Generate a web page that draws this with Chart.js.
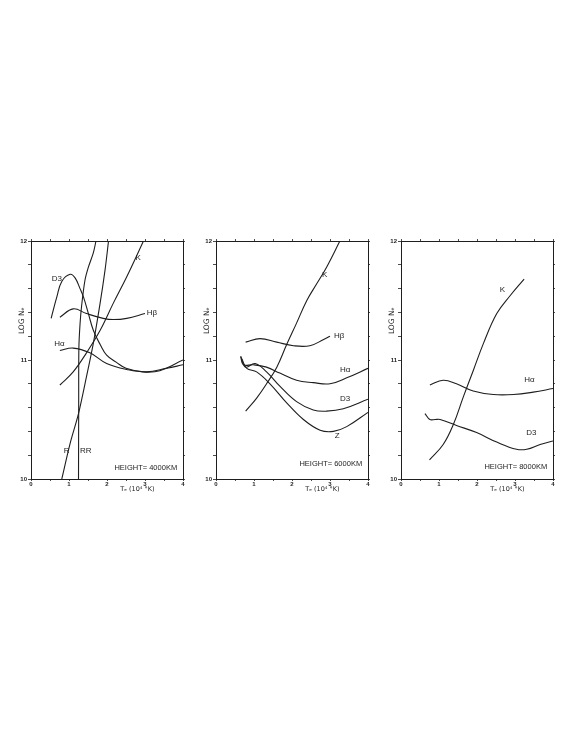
<!DOCTYPE html>
<html><head><meta charset="utf-8">
<script src="https://cdn.jsdelivr.net/npm/chart.js@4.4.1/dist/chart.umd.min.js"></script>
<style>
html,body{margin:0;padding:0;background:#fff;}
body{width:568px;height:735px;position:relative;overflow:hidden;}
canvas{position:absolute;}
</style></head><body>
<canvas id="c1" width="200" height="270" style="left:0px;top:230px;width:200px;height:270px"></canvas>
<canvas id="c2" width="195" height="270" style="left:190px;top:230px;width:195px;height:270px"></canvas>
<canvas id="c3" width="193" height="270" style="left:375px;top:230px;width:193px;height:270px"></canvas>
<script>
// ---------- DATA (T_e in 10^4 K, log N_e) ----------
const xTickValues = [0, 1, 2, 3, 4];
const yTickValues = [10, 11, 12];

// Panel 1: HEIGHT = 4000 KM
const p1_D3 = [[0.53,11.35],[0.68,11.53],[0.81,11.66],[1.03,11.72],[1.16,11.69],[1.29,11.60],[1.38,11.53],[1.51,11.39],[1.64,11.25],[1.82,11.13],[1.99,11.04],[2.25,10.98],[2.5,10.93],[2.96,10.90],[3.39,10.91],[4.0,11.0]];
const p1_Ha = [[0.76,11.08],[1.11,11.10],[1.55,11.06],[1.99,10.97],[2.52,10.92],[3.04,10.90],[3.57,10.93],[4.0,10.96]];
const p1_Hb = [[0.76,11.36],[1.11,11.43],[1.46,11.39],[1.90,11.35],[2.17,11.34],[2.52,11.35],[3.0,11.39]];
const p1_K  = [[0.76,10.79],[1.11,10.90],[1.46,11.06],[1.82,11.25],[2.17,11.48],[2.52,11.70],[2.96,12.0]];
const p1_R  = [[0.81,10.0],[1.03,10.30],[1.25,10.55],[1.46,10.86],[1.64,11.14],[1.82,11.48],[1.95,11.76],[2.04,12.0]];
const p1_RR = [[1.25,10.0],[1.255,10.6],[1.26,11.1],[1.29,11.3],[1.33,11.45],[1.42,11.67],[1.51,11.78],[1.64,11.90],[1.71,12.0]];

// Panel 2: HEIGHT = 6000 KM
const p2_K  = [[0.78,10.57],[1.07,10.68],[1.33,10.80],[1.6,10.94],[1.86,11.13],[2.12,11.31],[2.39,11.50],[2.65,11.64],[2.91,11.78],[3.26,12.0]];
const p2_Hb = [[0.78,11.15],[1.16,11.18],[1.6,11.15],[2.04,11.12],[2.47,11.12],[2.82,11.17],[3.0,11.20]];
const p2_Ha = [[0.65,11.03],[0.72,10.96],[0.98,10.96],[1.33,10.94],[1.68,10.89],[2.12,10.83],[2.56,10.81],[3.0,10.80],[3.44,10.85],[4.0,10.93]];
const p2_D3 = [[0.65,11.03],[0.78,10.94],[1.03,10.97],[1.33,10.90],[1.68,10.78],[2.12,10.65],[2.56,10.58],[2.91,10.57],[3.35,10.59],[4.0,10.67]];
const p2_Z  = [[0.68,11.01],[0.81,10.93],[1.07,10.90],[1.42,10.80],[1.86,10.64],[2.3,10.50],[2.74,10.41],[3.09,10.40],[3.44,10.44],[4.0,10.56]];

// Panel 3: HEIGHT = 8000 KM
const p3_K  = [[0.75,10.16],[1.11,10.29],[1.38,10.46],[1.64,10.69],[1.90,10.91],[2.17,11.14],[2.52,11.39],[2.87,11.54],[3.24,11.68]];
const p3_Ha = [[0.76,10.79],[1.11,10.83],[1.46,10.80],[1.90,10.74],[2.43,10.71],[2.96,10.71],[3.48,10.73],[4.0,10.76]];
const p3_D3 = [[0.63,10.55],[0.76,10.50],[0.9,10.50],[1.03,10.50],[1.46,10.45],[1.99,10.39],[2.52,10.31],[3.04,10.25],[3.31,10.25],[3.66,10.29],[4.0,10.32]];

// curve-name annotations (text, T_e, log N_e)
const p1_names = [['D3',0.68,11.68],['Hβ',3.18,11.40],['Hα',0.75,11.14],['K',2.82,11.86],['R',0.94,10.24],['RR',1.44,10.24]];
const p2_names = [['K',2.86,11.72],['Hβ',3.24,11.20],['Hα',3.40,10.92],['D3',3.40,10.67],['Z',3.19,10.36]];
const p3_names = [['K',2.67,11.59],['Hα',3.38,10.83],['D3',3.43,10.39]];
const heightTexts = ['HEIGHT= 4000KM','HEIGHT= 6000KM','HEIGHT= 8000KM'];
const yTitle = 'LOG Nₑ';
const xTitle = 'Tₑ (10⁴ °K)';

// ---------- CHART ----------
const INK = '#1e1e1e';
function ds(arr, tension){
  return {data: arr.map(p => ({x:p[0], y:p[1]})), borderColor: INK, borderWidth: 1.1,
          pointRadius: 0, fill: false, tension: tension === undefined ? 0.4 : tension};
}
const intLabel = (list) => (v) => {
  const r = Math.round(v);
  return (Math.abs(v - r) < 1e-6 && list.includes(r)) ? String(r) : '';
};
const textPlugin = {
  id: 'panelText',
  afterDraw(chart, args, o){
    const {ctx, chartArea, scales:{x, y}} = chart;
    ctx.save();
    ctx.fillStyle = INK; ctx.textAlign = 'center'; ctx.textBaseline = 'middle';
    ctx.font = '8px "Liberation Sans"';
    for (const [t, vx, vy] of o.names) ctx.fillText(t, x.getPixelForValue(vx), y.getPixelForValue(vy));
    ctx.font = '7.5px "Liberation Sans"';
    ctx.fillText(o.height, x.getPixelForValue(3.02), y.getPixelForValue(o.hy));
    ctx.font = '6.5px "DejaVu Sans"';
    ctx.fillText(xTitle, x.getPixelForValue(2.8), chartArea.bottom + 10);
    ctx.font = '7.5px "DejaVu Sans"';
    ctx.translate(chartArea.left - 9, y.getPixelForValue(11.33));
    ctx.rotate(-Math.PI/2);
    ctx.fillText(yTitle, 0, 0);
    ctx.restore();
  }
};
function scales(leftW, rightW){
  const grid = (len) => ({display:true, drawOnChartArea:false, tickLength:len, color:INK, lineWidth:0.8});
  const border = {display:true, color:INK, width:1};
  const font = {size:6, family:'Liberation Sans', weight:'bold'};
  return {
    x: {type:'linear', position:'bottom', min:0, max:4, grid:grid(2), border,
        ticks:{stepSize:0.5, autoSkip:false, maxRotation:0, padding:0, font, color:INK, callback:intLabel(xTickValues)},
        afterFit(s){ s.height = 21; }},
    x2:{type:'linear', position:'top', min:0, max:4, grid:grid(2), border,
        ticks:{stepSize:0.5, display:false}, afterFit(s){ s.height = 11; }},
    y: {type:'linear', position:'left', min:10, max:12, grid:grid(3), border,
        ticks:{stepSize:0.2, autoSkip:false, padding:1, font, color:INK, callback:intLabel(yTickValues)},
        afterFit(s){ s.width = leftW; }},
    y2:{type:'linear', position:'right', min:10, max:12, grid:grid(2), border,
        ticks:{stepSize:0.2, display:false}, afterFit(s){ s.width = rightW; }}
  };
}
function panel(id, datasets, names, height, hy, leftW, rightW){
  new Chart(document.getElementById(id), {
    type: 'line',
    data: {datasets},
    options: {responsive:false, animation:false, devicePixelRatio:1,
      layout:{padding:0},
      plugins:{legend:{display:false}, tooltip:{enabled:false}, panelText:{names, height, hy}},
      scales: scales(leftW, rightW)},
    plugins: [textPlugin]
  });
}
panel('c1', [ds(p1_D3), ds(p1_Ha), ds(p1_Hb), ds(p1_K), ds(p1_R, 0.3), ds(p1_RR, 0.3)], p1_names, heightTexts[0], 10.09, 31, 17);
panel('c2', [ds(p2_K), ds(p2_Hb), ds(p2_Ha), ds(p2_D3), ds(p2_Z)], p2_names, heightTexts[1], 10.13, 26, 17);
panel('c3', [ds(p3_K), ds(p3_Ha), ds(p3_D3)], p3_names, heightTexts[2], 10.10, 26, 15);
</script>
</body></html>
